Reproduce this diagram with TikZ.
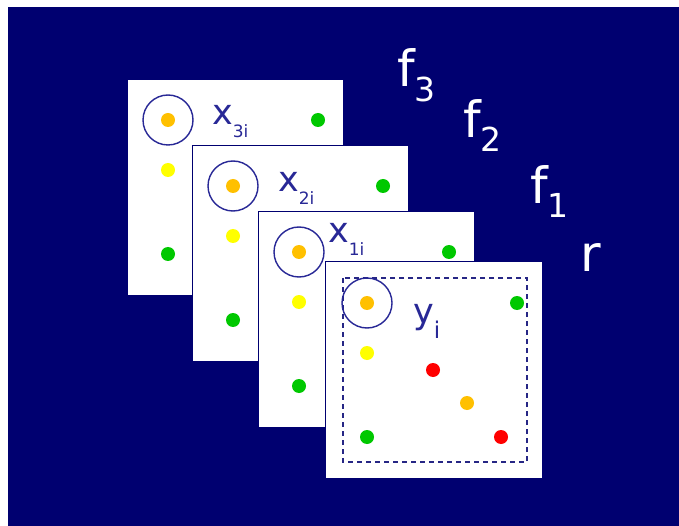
\documentclass[tikz,border=0pt]{standalone}
\usepackage{fontspec}
\setmainfont{DejaVu Sans}
\usetikzlibrary{positioning}

\definecolor{slidebg}{RGB}{0,0,112}
\definecolor{ringblue}{RGB}{40,40,150}
\definecolor{dotorange}{RGB}{255,192,0}
\definecolor{dotyellow}{RGB}{255,255,0}
\definecolor{dotgreen}{RGB}{0,200,0}
\definecolor{dotred}{RGB}{255,0,0}

\newcommand{\lowsub}[3]{\raisebox{-#1pt}{\fontsize{#2}{#2}\selectfont #3}}

\tikzset{
  panel/.style={draw=slidebg,line width=0.8pt,fill=white},
  dot/.style={circle,inner sep=0pt,minimum size=14pt,fill=#1},
  ring/.style={circle,draw=ringblue,line width=1.4pt,minimum size=50pt,inner sep=0pt},
  xlab/.style={text=ringblue,font=\fontsize{35}{35}\selectfont,inner sep=0pt,anchor=base west},
  flab/.style={text=white,font=\fontsize{50}{50}\selectfont,inner sep=0pt,anchor=base west},
}

\begin{document}
\begin{tikzpicture}[x=1pt,y=-1pt]
  \useasboundingbox (0,0) rectangle (679,526);
  \fill[white] (0,0) rectangle (679,526);
  \fill[slidebg] (8,7) rectangle (679,526);

  % stacked frames x3, x2, x1
  \foreach \name/\px/\py/\lx/\ly/\lab in {p3/127/79/85/46/3i, p2/192/145/86/47/2i, p1/258/211/70/32/1i}{
    \begin{scope}[shift={(\px,\py)}]
      \draw[panel] (0,0) rectangle (216,216);
      \node[dot=dotorange] (\name-o) at (41,41) {};
      \node[ring] (\name-ring) at (\name-o) {};
      \node[dot=dotyellow] (\name-y) at (41,91) {};
      \node[dot=dotgreen] (\name-g) at (191,41) {};
      \node[dot=dotgreen] (\name-h) at (41,175) {};
      \node[xlab] (\name-lab) at (\lx,\ly) {x\lowsub{13}{17}{\lab}};
    \end{scope}
  }

  % output frame y
  \begin{scope}[shift={(325,261)}]
    \draw[panel] (0,0) rectangle (217,217);
    \draw[slidebg!85!white,line width=1.5pt,dash pattern=on 5pt off 4pt] (18,17) rectangle (202,201);
    \node[dot=dotorange] (py-o) at (42,42) {};
    \node[ring] (py-ring) at (py-o) {};
    \node[dot=dotgreen] (py-g) at (192,42) {};
    \node[dot=dotyellow] (py-y) at (42,92) {};
    \node[dot=dotred] (py-r) at (108,109) {};
    \node[dot=dotorange] (py-m) at (142,142) {};
    \node[dot=dotgreen] (py-h) at (42,176) {};
    \node[dot=dotred] (py-s) at (176,176) {};
    \node[xlab] (py-lab) at (88,62) {y\lowsub{15}{23}{i}};
  \end{scope}

  % filter labels
  \node[flab] (f3) at (397,87) {f\lowsub{15}{33}{3}};
  \node[flab] (f2) at (463,138) {f\lowsub{14}{33}{2}};
  \node[flab] (f1) at (530,204) {f\lowsub{14}{33}{1}};
  \node[flab] (r) at (580,272) {r};
\end{tikzpicture}
\end{document}
